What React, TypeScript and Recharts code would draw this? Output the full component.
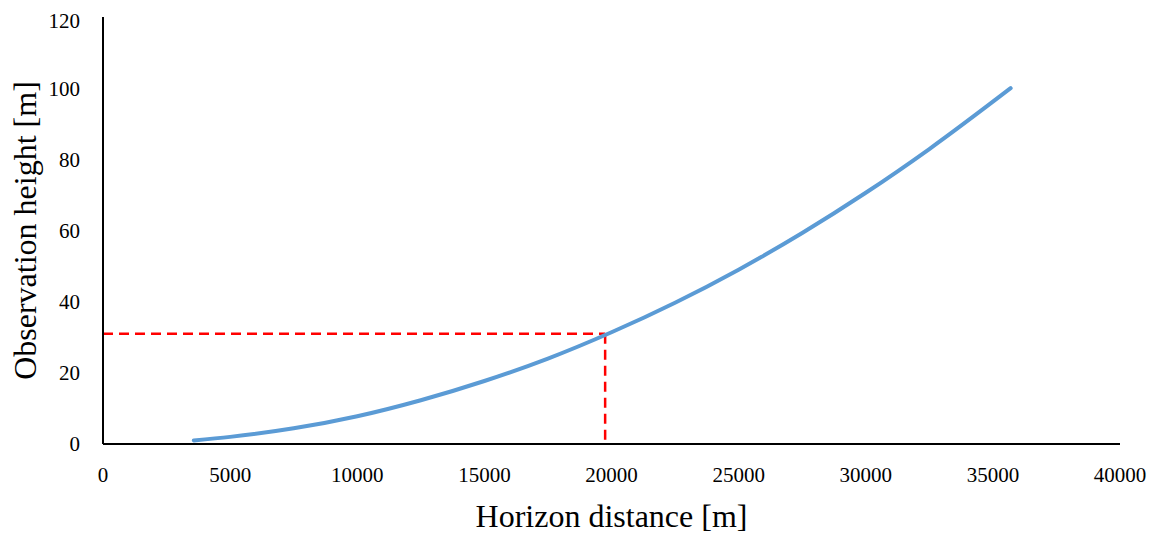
import React from 'react';
import { LineChart, Line, XAxis, YAxis, ReferenceLine } from 'recharts';

// horizon distance [m] vs observation height [m]
const distances = [3570, 5000, 7500, 10000, 12500, 15000, 17500, 20000, 22500, 25000, 27500, 30000, 32500, 35700];
const heights = [1, 2, 4.4, 7.8, 12.3, 17.7, 24, 31.4, 39.7, 49, 59.3, 70.6, 82.9, 100];

const xTicks = [0, 5000, 10000, 15000, 20000, 25000, 30000, 35000, 40000];
const yTicks = [0, 20, 40, 60, 80, 100, 120];

// the dashed guide to the point of interest
const markerX = 19750;
const markerY = 31;

const font = '"Liberation Serif", "Times New Roman", serif';

export default function App() {
  const data = distances.map((d, i) => ({ d, h: heights[i] }));

  return (
    <div style={{ fontFamily: font }}>
      <LineChart width={1153} height={527} data={data} margin={{ top: 9, right: 41, left: 0, bottom: 0 }}>
        <XAxis
          dataKey="d"
          type="number"
          domain={[0, 40000]}
          ticks={xTicks}
          height={91}
          tickLine={false}
          tickSize={0}
          tickMargin={23}
          axisLine={{ stroke: '#000', strokeWidth: 2 }}
          tick={{ fill: '#000', fontSize: 21, fontFamily: font }}
          label={{ value: 'Horizon distance [m]', position: 'insideBottom', offset: 8, fill: '#000', fontSize: 32, fontFamily: font }}
        />
        <YAxis
          type="number"
          domain={[0, 120]}
          ticks={yTicks}
          width={95}
          tickLine={false}
          tickSize={0}
          tickMargin={23}
          axisLine={{ stroke: '#000', strokeWidth: 2 }}
          tick={{ fill: '#000', fontSize: 21, fontFamily: font }}
          label={{ value: 'Observation height [m]', angle: -90, position: 'insideLeft', offset: 17, fill: '#000', fontSize: 32, fontFamily: font, style: { textAnchor: 'middle' } }}
        />
        <ReferenceLine segment={[{ x: 0, y: markerY }, { x: markerX, y: markerY }]} stroke="#ff0000" strokeWidth={2.5} strokeDasharray="10 6" />
        <ReferenceLine segment={[{ x: markerX, y: markerY }, { x: markerX, y: 0 }]} stroke="#ff0000" strokeWidth={2.5} strokeDasharray="10 6" />
        <Line type="monotone" dataKey="h" stroke="#5b9bd5" strokeWidth={4} dot={false} isAnimationActive={false} strokeLinecap="round" />
      </LineChart>
    </div>
  );
}
